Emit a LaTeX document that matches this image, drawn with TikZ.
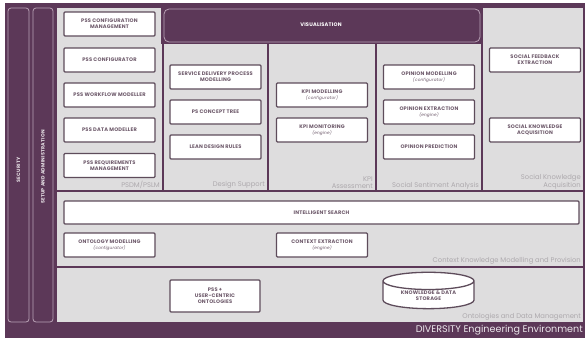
\documentclass[tikz,border=0pt]{standalone}
\usepackage{fontspec}
\setmainfont{Poppins}
\newfontfamily\boxfont[LetterSpace=4]{Poppins}
\usetikzlibrary{shapes.geometric}
\definecolor{divpurple}{HTML}{5C3858}
\definecolor{divgray}{HTML}{DEDDDE}
\definecolor{divrim}{HTML}{B9A2B6}
\definecolor{divborder}{HTML}{5E4C5B}
\definecolor{divtext}{HTML}{6E5A6B}
\definecolor{divlabel}{HTML}{ADA9AD}

\begin{document}
\begin{tikzpicture}[x=1pt, y=-1pt,
    comp/.style={draw=divborder, line width=1.3pt, fill=white, rounded corners=1pt,
        minimum width=91pt, minimum height=24pt, inner sep=1pt, align=center,
        font=\boxfont\fontsize{5.1}{6}\selectfont\bfseries, text=divtext},
    layer/.style={anchor=south east, align=right, inner sep=0pt,
        font=\fontsize{6.8}{7.6}\selectfont, text=divlabel},
    sep/.style={divpurple, line width=2.6pt},
    sidebar/.style={draw=divrim, line width=0.8pt, fill=divpurple, rounded corners=3pt}]

    \useasboundingbox (0,0) rectangle (585,338);
    \newcommand{\sub}[1]{\\[-0.5pt]{\fontsize{4.2}{4.8}\selectfont\mdseries\itshape #1}}

    % --- frame and background ---
    \fill[divpurple] (5,3) rectangle (585,338);
    \fill[divgray] (57,8) rectangle (583,322);
    \draw[sidebar] (8,8) rectangle (29,322);
    \draw[sidebar] (33,8) rectangle (53,322);
    \node[rotate=90, text=white!85!divpurple, font=\boxfont\fontsize{4.8}{5}\selectfont\bfseries] (security) at (18.5,170) {SECURITY};
    \node[rotate=90, text=white!85!divpurple, font=\boxfont\fontsize{4.8}{5}\selectfont\bfseries] (setup) at (43,167) {SETUP AND ADMINISTRATION};

    % --- layer separators ---
    \draw[sep] (57,191) -- (583,191);
    \draw[sep] (57,267) -- (583,267);
    \foreach \xs in {163,268,376,482}
        \draw[sep] (\xs,8) -- (\xs,191);

    % --- visualisation ---
    \fill[divpurple] (161,8) rectangle (483,44);
    \draw[divrim, line width=0.8pt, rounded corners=5pt] (164,9) rectangle (480,42);
    \node[text=white, font=\boxfont\fontsize{5.1}{6}\selectfont\bfseries] (vis) at (321,25) {VISUALISATION};

    % --- PSDM/PSLM ---
    \node[comp] (conf) at (109.5,24) {PSS CONFIGURATION\\MANAGEMENT};
    \node[comp] (cfgr) at (109.5,60) {PSS CONFIGURATOR};
    \node[comp] (wfm) at (109.5,95) {PSS WORKFLOW MODELLER};
    \node[comp] (dm) at (109.5,130) {PSS DATA MODELLER};
    \node[comp] (req) at (109.5,165.5) {PSS REQUIREMENTS\\MANAGEMENT};
    \node[layer] (psdm) at (160,189) {PSDM/PSLM};

    % --- Design Support ---
    \node[comp] (sdpm) at (215.5,77) {SERVICE DELIVERY PROCESS\\MODELLING};
    \node[comp] (tree) at (215.5,112) {PS CONCEPT TREE};
    \node[comp] (lean) at (215.5,147) {LEAN DESIGN RULES};
    \node[layer] (design) at (265,189) {Design Support};

    % --- KPI ---
    \node[comp] (kpim) at (322,95) {KPI MODELLING\sub{(configurator)}};
    \node[comp] (kpimon) at (322,130) {KPI MONITORING\sub{(engine)}};
    \node[layer] (kpi) at (373,189) {KPI\\Assessment};

    % --- Social Sentiment ---
    \node[comp] (opmod) at (429,77) {OPINION MODELLING\sub{(configurator)}};
    \node[comp] (opext) at (429,112) {OPINION EXTRACTION\sub{(engine)}};
    \node[comp] (oppred) at (429,147) {OPINION PREDICTION};
    \node[layer] (senti) at (479,189) {Social Sentiment Analysis};

    % --- Social Knowledge ---
    \node[comp] (sfe) at (535,60) {SOCIAL FEEDBACK\\EXTRACTION};
    \node[comp] (ska) at (535,130) {SOCIAL KNOWLEDGE\\ACQUISITION};
    \node[layer] (sknow) at (581,189) {Social Knowledge\\Acquisition};

    % --- context knowledge ---
    \node[comp, minimum width=515pt, minimum height=23pt] (search) at (321.5,212.5) {INTELLIGENT SEARCH};
    \node[comp] (ontmod) at (109.5,245) {ONTOLOGY MODELLING\sub{(configurator)}};
    \node[comp] (ctx) at (322,245) {CONTEXT EXTRACTION\sub{(engine)}};
    \node[layer] (context) at (581,265) {Context Knowledge Modelling and Provision};

    % --- ontologies and data ---
    \node[comp, minimum width=90pt, minimum height=32pt] (onto) at (215,296) {PSS +\\USER-CENTRIC\\ONTOLOGIES};
    \node[comp, cylinder, shape border rotate=90, aspect=0.3, rounded corners=0pt,
        minimum width=91pt, minimum height=32pt] (store) at (428.5,296) {KNOWLEDGE \& DATA\\STORAGE};
    \node[layer] (ontdata) at (581,321) {Ontologies and Data Management};

    \node[anchor=east, inner sep=0pt, text=white!88!divpurple, font=\fontsize{9.6}{10}\selectfont] (env) at (583,330) {DIVERSITY Engineering Environment};
\end{tikzpicture}
\end{document}
